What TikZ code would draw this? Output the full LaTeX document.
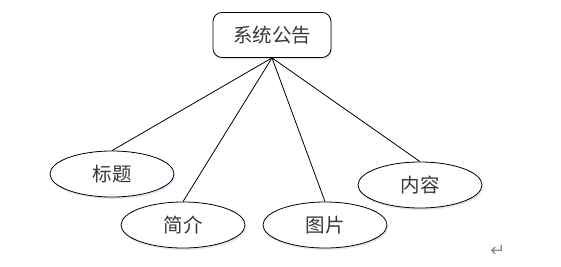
\documentclass[tikz,border=0pt]{standalone}
\usepackage{fontspec}
\newfontfamily\cjk{Noto Sans CJK SC}
\newfontfamily\symfont{DejaVu Sans}
\usepackage{xcolor}
\usepackage{tikz}
\usetikzlibrary{shapes.geometric, positioning, shadows}
\definecolor{inkgray}{RGB}{55, 55, 55}
\definecolor{glowblue}{RGB}{200, 215, 240}
\definecolor{markgray}{RGB}{140, 140, 140}

\tikzset{
    entity/.style={draw=black, thick, rounded corners=9pt, fill=white,
        minimum width=118pt, minimum height=45pt, inner sep=0pt,
        font=\cjk\fontsize{19.5}{19.5}\selectfont, text=inkgray,
        drop shadow={shadow xshift=1pt, shadow yshift=-2pt,
                     fill=glowblue, opacity=0.6}},
    attrib/.style={ellipse, draw=black, thick, fill=white,
        minimum width=124pt, minimum height=46pt, inner sep=0pt,
        font=\cjk\fontsize{19.5}{19.5}\selectfont, text=inkgray,
        drop shadow={shadow xshift=1pt, shadow yshift=-2pt,
                     fill=glowblue, opacity=0.6}},
    link/.style={thick, black}
}

\begin{document}
\begin{tikzpicture}[x=1pt, y=-1pt]
    \useasboundingbox (0,0) rectangle (561,267);

    % Entity
    \node[entity] (notice) at (272,35) {系统公告};

    % Attributes
    \node[attrib] (title)   at (112,174) {标题};
    \node[attrib] (brief)   at (183,225) {简介};
    \node[attrib] (picture) at (325,225) {图片};
    \node[attrib] (content) at (420,185) {内容};

    % Links
    \draw[link] (notice.south) -- (title.north);
    \draw[link] (notice.south) -- (brief.north);
    \draw[link] (notice.south) -- (picture.north);
    \draw[link] (notice.south) -- (content.north);

    % Paragraph mark
    \node[markgray, font=\symfont\fontsize{18}{18}\selectfont] (mark) at (498,251) {↵};
\end{tikzpicture}
\end{document}
